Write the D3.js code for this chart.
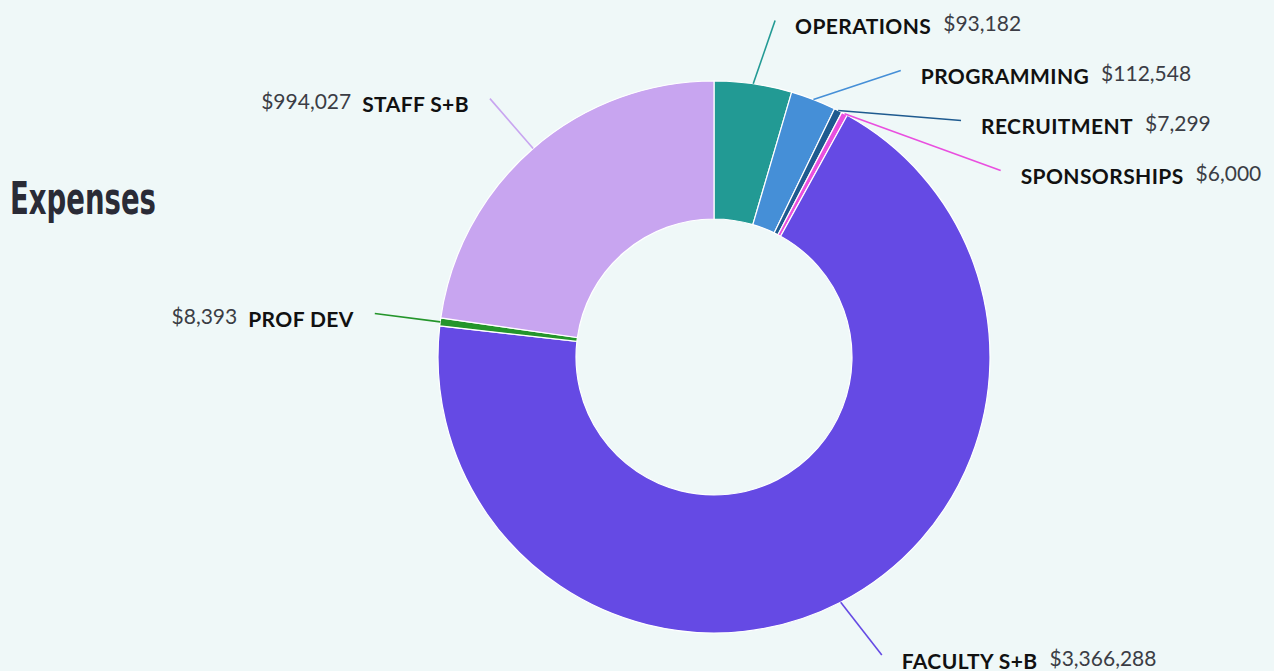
<!DOCTYPE html>
<html>
<head>
<meta charset="utf-8">
<script src="https://cdn.jsdelivr.net/npm/d3@7"></script>
<style>
  html, body { margin: 0; padding: 0; background: #eff8f8; }
  svg { display: block; }
</style>
</head>
<body>
<svg id="chart"></svg>
<script>
// expense categories, clockwise from 12 o'clock
const categories = ["OPERATIONS", "PROGRAMMING", "RECRUITMENT", "SPONSORSHIPS", "FACULTY S+B", "PROF DEV", "STAFF S+B"]
// amounts printed next to each label
const amounts = [93182, 112548, 7299, 6000, 3366288, 8393, 994027]
// share of the ring each slice takes in the picture (%)
const shares = [4.54, 2.65, 0.47, 0.36, 68.78, 0.46, 22.74]
const colors = ["#229a94", "#458fd7", "#1e5a8f", "#e94fdf", "#654ae4", "#24952b", "#c8a5f0"]

const W = 1274, H = 671
const cx = 714, cy = 357
const outerR = 276, innerR = 138
const labelR = 342
const gap = 50

const svg = d3.select("#chart").attr("width", W).attr("height", H)

svg.append("text")
   .attr("x", 10)
   .attr("y", 214)
   .attr("textLength", 146)
   .attr("lengthAdjust", "spacingAndGlyphs")
   .style("font-family", "'Liberation Sans Narrow', 'DejaVu Sans Condensed', sans-serif")
   .style("font-weight", 700)
   .style("font-size", "45px")
   .style("fill", "#2a2b36")
   .text("Expenses")

const rows = categories.map((c, i) => ({name: c, amount: amounts[i], share: shares[i], color: colors[i]}))

const pie = d3.pie().sort(null).value(d => d.share)
const arcs = pie(rows)

const arc = d3.arc().innerRadius(innerR).outerRadius(outerR)

const g = svg.append("g").attr("transform", `translate(${cx},${cy})`)

g.selectAll("path.slice")
 .data(arcs)
 .enter()
 .append("path")
 .attr("class", "slice")
 .attr("d", arc)
 .attr("fill", d => d.data.color)
 .attr("stroke", "#ffffff")
 .attr("stroke-width", 1.2)

// label anchor points on an outer circle, then push apart vertically
arcs.forEach(d => {
	d.mid = (d.startAngle + d.endAngle) / 2
	d.side = Math.sin(d.mid) >= 0 ? 1 : -1
	d.sx = Math.sin(d.mid) * outerR
	d.sy = -Math.cos(d.mid) * outerR
	d.ly = -Math.cos(d.mid) * labelR
})

const topMin = 20.5 - cy, botMax = H - 16 - cy
;[1, -1].forEach(side => {
	const list = arcs.filter(d => d.side === side).sort((a, b) => a.ly - b.ly)
	let prev = -Infinity
	list.forEach(d => {
		d.ly = Math.max(d.ly, prev + gap, topMin)
		d.ly = Math.min(d.ly, botMax)
		prev = d.ly
	})
})
arcs.forEach(d => {
	d.lx = d.side * Math.sqrt(Math.max(0, labelR * labelR - d.ly * d.ly))
})

g.selectAll("line.leader")
 .data(arcs)
 .enter()
 .append("line")
 .attr("class", "leader")
 .attr("x1", d => d.sx)
 .attr("y1", d => d.sy)
 .attr("x2", d => d.lx)
 .attr("y2", d => d.ly)
 .attr("stroke", d => d.data.color)
 .attr("stroke-width", 1.6)

const fmt = d3.format("$,")

const labels = g.selectAll("text.lbl")
 .data(arcs)
 .enter()
 .append("text")
 .attr("class", "lbl")
 .attr("x", d => d.lx + (d.side > 0 ? 20 : -21))
 .attr("y", d => d.ly + 13.5)
 .attr("text-anchor", d => d.side > 0 ? "start" : "end")
 .style("font-family", "Lato, 'Open Sans', sans-serif")
 .style("font-size", "21px")

labels.each(function(d) {
	const t = d3.select(this)
	const name = s => s.append("tspan").style("font-weight", 700).style("letter-spacing", "0.4px").style("fill", "#111111").text(d.data.name)
	const val = s => s.append("tspan").style("font-weight", 400).style("letter-spacing", "0px").style("fill", "#3b3d45").text(fmt(d.data.amount))
	if (d.side > 0) {
		name(t)
		val(t).attr("dx", 12).attr("dy", -3)
	} else {
		val(t).attr("dy", -3)
		name(t).attr("dx", 11).attr("dy", 3)
	}
})
</script>
</body>
</html>
